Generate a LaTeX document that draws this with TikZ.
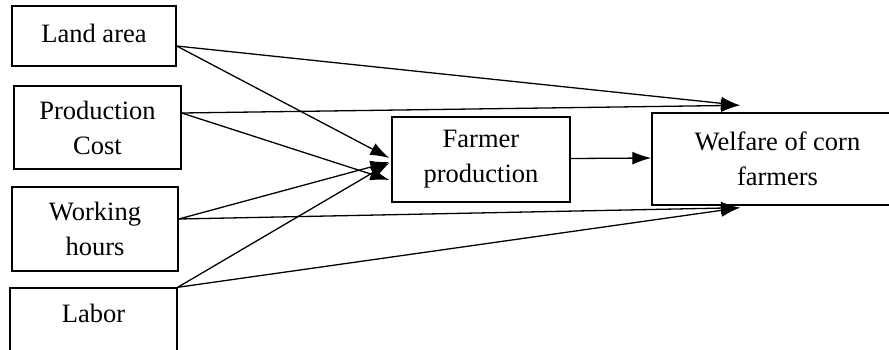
\documentclass[tikz,border=0pt]{standalone}
\usepackage{fontspec}
\setmainfont{Liberation Serif}
\usetikzlibrary{arrows.meta}
\begin{document}
\begin{tikzpicture}[x=1pt,y=-1pt,
  box/.style={draw, line width=1.4pt, align=center, inner sep=0pt,
    font=\fontsize{26.5}{35}\selectfont},
  lbl/.style={inner sep=0pt, font=\fontsize{26.5}{35}\selectfont},
  arr/.style={line width=1.3pt, -{Latex[length=19pt,width=13pt]}}]
\useasboundingbox (0,0) rectangle (889,349);
\fill[white] (0,0) rectangle (889,349);
\clip (0,0) rectangle (889,349);
\node[box, minimum width=164, minimum height=60, text depth=6pt] (land) at (94,36) {Land area};
\node[box, minimum width=167, minimum height=83] (prod) at (97.5,127.5) {Production\\Cost};
\node[box, minimum width=166, minimum height=84] (work) at (95,229) {Working\\hours};
\node[box, minimum width=167, minimum height=82] (labor) at (93.5,329) {};
\node[lbl] (labortext) at (93.5,313) {Labor};
\node[box, minimum width=178, minimum height=85] (farmer) at (481,159.5) {Farmer\\production};
\node[box, minimum width=251, minimum height=92] (welfare) at (777.5,159) {Welfare of corn\\farmers};
% to farmer production
\draw[arr] ([yshift=-10pt]land.east) -- ([xshift=-2pt,yshift=1.5pt]farmer.west);
\draw[arr] ([yshift=14.5pt]prod.east) -- ([xshift=-2pt,yshift=-20.5pt]farmer.west);
\draw[arr] ([yshift=10pt]work.east) -- ([xshift=-2pt,yshift=-2.5pt]farmer.west);
\draw[arr] (labor.north east) -- ([xshift=-2pt,yshift=-3.5pt]farmer.west);
% to welfare
\draw[arr] ([yshift=-10pt]land.east) -- ([xshift=-37.5pt,yshift=7pt]welfare.north);
\draw[arr] ([yshift=14.5pt]prod.east) -- ([xshift=-37.5pt,yshift=7pt]welfare.north);
\draw[arr] ([yshift=10pt]work.east) -- ([xshift=-37.5pt,yshift=-2pt]welfare.south);
\draw[arr] (labor.north east) -- ([xshift=-37.5pt,yshift=-2pt]welfare.south);
\draw[arr] ([yshift=1pt]farmer.east) -- ([yshift=1pt]welfare.west);
\end{tikzpicture}
\end{document}
